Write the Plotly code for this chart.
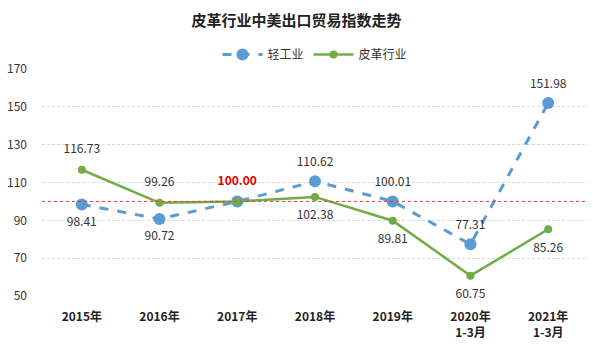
import plotly.graph_objects as go

categories = ["2015年", "2016年", "2017年", "2018年", "2019年", "2020年<br>1-3月", "2021年<br>1-3月"]
light_industry = [98.41, 90.72, 100.00, 110.62, 100.01, 77.31, 151.98]
leather = [116.73, 99.26, 100.00, 102.38, 89.81, 60.75, 85.26]
baseline = 100
y_ticks = [50, 70, 90, 110, 130, 150, 170]

FONT = "Noto Sans CJK SC, Microsoft YaHei, sans-serif"
BLUE = "#5B9BD5"
GREEN = "#70AD47"

light_text = [f"{v:.2f}" for v in light_industry]
light_text[2] = ""
light_pos = ["bottom center", "bottom center", "top center", "top center", "top center", "top center", "top center"]

leather_text = [f"{v:.2f}" for v in leather]
leather_text[2] = "<b>100.00</b>"
leather_pos = ["top center", "top center", "top center", "bottom center", "bottom center", "bottom center", "bottom center"]
leather_colors = ["#333333"] * 7
leather_colors[2] = "#E00000"

fig = go.Figure()
fig.add_trace(go.Scatter(
    x=categories, y=light_industry, name="轻工业", mode="lines+markers",
    line=dict(color=BLUE, width=3, dash="dash"),
    marker=dict(color=BLUE, size=12), cliponaxis=False,
))
fig.add_trace(go.Scatter(
    x=categories, y=leather, name="皮革行业", mode="lines+markers",
    line=dict(color=GREEN, width=2.5),
    marker=dict(color=GREEN, size=8), cliponaxis=False,
))
# data labels (invisible marker to set label offset)
fig.add_trace(go.Scatter(
    x=categories, y=light_industry, mode="markers+text", showlegend=False, hoverinfo="skip",
    marker=dict(size=18, opacity=0), cliponaxis=False,
    text=light_text, textposition=light_pos,
    textfont=dict(family=FONT, size=12, color="#333333"),
))
fig.add_trace(go.Scatter(
    x=categories, y=leather, mode="markers+text", showlegend=False, hoverinfo="skip",
    marker=dict(size=20, opacity=0), cliponaxis=False,
    text=leather_text, textposition=leather_pos,
    textfont=dict(family=FONT, size=12, color=leather_colors),
))
fig.add_hline(y=baseline, line=dict(color="#E04040", width=1, dash="dot"))

fig.update_layout(
    width=593, height=345,
    margin=dict(l=42, r=5, t=69, b=49),
    paper_bgcolor="white", plot_bgcolor="white",
    title=dict(text="<b>皮革行业中美出口贸易指数走势</b>", x=0.5, xanchor="center", y=0.94, yanchor="middle",
               font=dict(family=FONT, size=15, color="#222222")),
    legend=dict(orientation="h", x=0.5, xanchor="center", y=1.0, yanchor="bottom",
                font=dict(family=FONT, size=12, color="#333333"), itemwidth=40),
    font=dict(family=FONT, color="#333333"),
    showlegend=True,
)
fig.update_xaxes(showgrid=False, showline=False, ticks="", tickfont=dict(family=FONT, size=12, color="#222222"),
                 tickprefix="<b>", ticksuffix="</b>", ticklabelstandoff=12)
fig.update_yaxes(range=[50, 170], tickvals=y_ticks, showgrid=True, gridcolor="#D9D9D9", griddash="3px,2px",
                 zeroline=False, tickfont=dict(family=FONT, size=12, color="#333333"), ticklabelstandoff=14)

fig.write_html("out.html")
